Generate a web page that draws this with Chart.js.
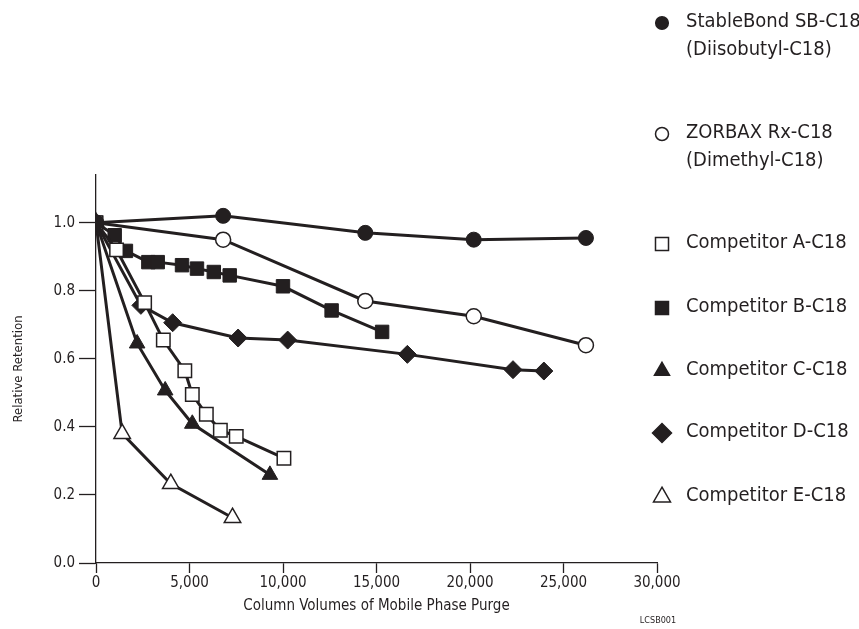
<!DOCTYPE html>
<html>
<head>
<meta charset="utf-8">
<script src="https://cdn.jsdelivr.net/npm/chart.js@4.4.1/dist/chart.umd.min.js"></script>
<style>
  html, body { margin: 0; padding: 0; background: #fff; }
  #wrap { position: relative; width: 859px; height: 629px; }
</style>
</head>
<body>
<div id="wrap"><canvas id="grafico"></canvas></div>
<script>
const nombres = [
  ["StableBond SB-C18", "(Diisobutyl-C18)"],
  ["ZORBAX Rx-C18", "(Dimethyl-C18)"],
  ["Competitor A-C18"],
  ["Competitor B-C18"],
  ["Competitor C-C18"],
  ["Competitor D-C18"],
  ["Competitor E-C18"]
];

const sbX = [0, 6800, 14400, 20200, 26200];
const sbY = [1.0, 1.02, 0.97, 0.95, 0.955];

const zorbaxX = [0, 6800, 14400, 20200, 26200];
const zorbaxY = [1.0, 0.95, 0.77, 0.725, 0.64];

const aX = [0, 1100, 2600, 3600, 4750, 5150, 5900, 6650, 7500, 10050];
const aY = [1.0, 0.92, 0.765, 0.655, 0.565, 0.495, 0.437, 0.39, 0.372, 0.308];

const bX = [0, 1000, 1600, 2800, 3300, 4600, 5400, 6300, 7150, 10000, 12600, 15300];
const bY = [1.0, 0.963, 0.917, 0.884, 0.884, 0.875, 0.865, 0.855, 0.845, 0.813, 0.742, 0.679];

const cX = [0, 2200, 3700, 5150, 9300];
const cY = [1.0, 0.645, 0.507, 0.409, 0.259];

const dX = [0, 2400, 4100, 7600, 10250, 16650, 22300, 23950];
const dY = [1.0, 0.757, 0.706, 0.661, 0.655, 0.613, 0.568, 0.564];

const eX = [0, 1400, 4000, 7300];
const eY = [1.0, 0.38, 0.233, 0.133];

const xTicks = [0, 5000, 10000, 15000, 20000, 25000, 30000];
const yTicks = [0, 0.2, 0.4, 0.6, 0.8, 1.0];

const tinta = "#231f20";
const fuente = "'DejaVu Sans Condensed', 'Liberation Sans', sans-serif";

const puntos = (xs, ys) => xs.map((x, i) => ({ x: x, y: ys[i] }));

const serie = (i, xs, ys, estilo, radio, relleno) => ({
  label: nombres[i].join(" "),
  data: puntos(xs, ys),
  showLine: true,
  borderColor: tinta,
  borderWidth: 3,
  pointStyle: estilo,
  pointRadius: radio,
  pointHoverRadius: radio,
  pointBackgroundColor: relleno ? tinta : "#fff",
  pointBorderColor: tinta,
  pointBorderWidth: relleno ? 1 : 1.5
});

// leyenda dibujada a mano a la derecha
const leyenda = {
  id: "leyenda",
  afterDraw(chart) {
    const ctx = chart.ctx;
    const filas = [22, 133, 243, 307, 370, 432, 496];
    const radios = [6.3, 6.5, 9.2, 9.2, 8.7, 9.5, 9.8];
    ctx.save();
    chart.data.datasets.forEach((ds, i) => {
      const y = filas[i];
      ctx.fillStyle = ds.pointBackgroundColor;
      ctx.strokeStyle = tinta;
      ctx.lineWidth = 1.5;
      Chart.helpers.drawPoint(ctx, { pointStyle: ds.pointStyle, radius: radios[i], rotation: 0, borderWidth: 1.5 }, 662, y + 1);
      ctx.fillStyle = tinta;
      ctx.font = "20px " + fuente;
      ctx.textBaseline = "middle";
      ctx.textAlign = "left";
      nombres[i].forEach((linea, j) => ctx.fillText(linea, 686, y + j * 28));
    });
    ctx.font = "9px " + fuente;
    ctx.textAlign = "center";
    ctx.fillText("LCSB001", 658, 621);
    ctx.restore();
  }
};

const ctx = document.querySelector("#grafico");

new Chart(ctx, {
  type: "scatter",
  data: {
    datasets: [
      serie(0, sbX, sbY, "circle", 7.5, true),
      serie(1, zorbaxX, zorbaxY, "circle", 7.5, false),
      serie(2, aX, aY, "rect", 9.5, false),
      serie(3, bX, bY, "rect", 9.5, true),
      serie(4, cX, cY, "triangle", 9, true),
      serie(5, dX, dY, "rectRot", 9, true),
      serie(6, eX, eY, "triangle", 9.5, false)
    ]
  },
  options: {
    responsive: true,
    maintainAspectRatio: false,
    animation: false,
    layout: { padding: { top: 175, right: 202, bottom: 0, left: 0 } },
    plugins: {
      legend: { display: false },
      tooltip: { enabled: false }
    },
    scales: {
      x: {
        type: "linear",
        min: 0,
        max: 30000,
        afterBuildTicks: (s) => { s.ticks = xTicks.map(v => ({ value: v })); },
        afterFit: (s) => { s.height = 66; },
        border: { color: tinta, width: 1.3 },
        grid: { drawOnChartArea: false, tickLength: 10, tickColor: tinta, tickWidth: 1.3 },
        ticks: {
          color: tinta,
          padding: 1,
          maxRotation: 0,
          font: { family: fuente, size: 15 },
          callback: (v) => v.toLocaleString("en-US")
        },
        title: {
          display: true,
          text: "Column Volumes of Mobile Phase Purge",
          color: tinta,
          font: { family: fuente, size: 15 },
          padding: { top: 0, bottom: 14 }
        }
      },
      y: {
        type: "linear",
        min: 0,
        max: 1.14,
        afterBuildTicks: (s) => { s.ticks = yTicks.map(v => ({ value: v })); },
        afterFit: (s) => { s.width = 96; },
        border: { color: tinta, width: 1.3 },
        grid: { drawOnChartArea: false, tickLength: 17, tickColor: tinta, tickWidth: 1.3 },
        ticks: {
          color: tinta,
          padding: 4,
          font: { family: fuente, size: 15 },
          callback: (v) => v.toFixed(1)
        },
        title: {
          display: true,
          text: "Relative Retention",
          color: tinta,
          font: { family: fuente, size: 13 },
          padding: { top: 11, bottom: 0 }
        }
      }
    }
  },
  plugins: [leyenda]
});
</script>
</body>
</html>
